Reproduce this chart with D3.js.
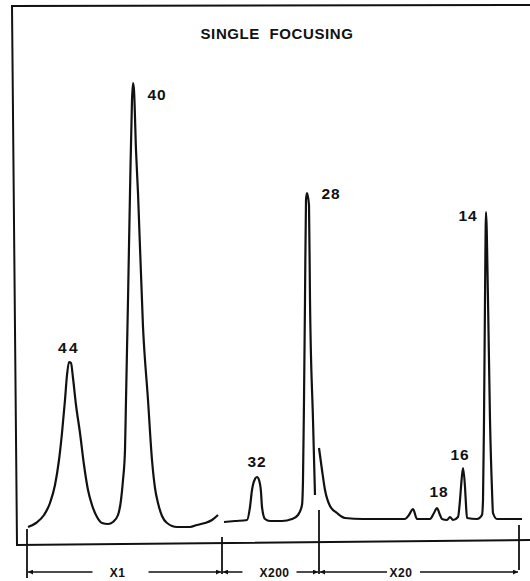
<!DOCTYPE html>
<html>
<head>
<meta charset="utf-8">
<script src="https://cdn.jsdelivr.net/npm/d3@7"></script>
<style>
  html, body { margin: 0; padding: 0; background: #fff; }
  svg { display: block; }
  text { font-family: "Liberation Sans", Arial, sans-serif; fill: #111; font-weight: bold; }
</style>
</head>
<body>
<div id="chart"></div>
<script>
// Mass spectrum, single focusing
// x = scan position from the left axis, y = pen height above the axis line

const title = "SINGLE  FOCUSING"

// pen trace, one list per gain range
const traceX1 = [[14,18],[22,22],[30,30],[36,42],[41,60],[45,85],[48,112],[51,145],[53,170],[55,183],
    [57,182],[59,167],[62,140],[66,112],[70,80],[74,55],[78,40],[83,28],[88,22],[94,21],[99,23],
    [104,30],[107,45],[109,65],[111,95],[112,145],[113,195],[114,245],[116,352],[118,445],[119,462],
    [120,455],[122,395],[124,352],[129,218],[134,145],[138,85],[141,57],[144,42],[148,29],[153,22],
    [163,18],[176,18],[183,20],[191,22],[198,25],[204,30]]
const traceX200 = [[210,23],[221,24],[233,25],[236,38],[238,55],[241,66],[243,68],[245,65],[247,53],
    [248,38],[251,26],[256,24],[268,24],[278,26],[284,30],[288,40],[289,65],[290,145],[291,245],
    [292,345],[293,352],[295,340],[296,245],[299,125],[301,50]]
const traceX20 = [[305,97],[308,75],[311,55],[316,39],[323,32],[331,27],[349,26],[376,26],[391,26],
    [395,30],[399,36],[403,26],[416,26],[420,32],[423,37],[426,30],[428,26],[433,25],[436,28],[439,25],
    [444,28],[446,45],[447,58],[449,77],[451,58],[452,40],[453,27],[463,26],[468,30],[469,45],[470,125],
    [471,245],[472,333],[474,245],[476,125],[478,55],[479,32],[483,26],[508,26]]

// peak labels (mass numbers) and their apex
const peakMass  = [44, 40, 32, 28, 18, 16, 14]
const peakApexX = [55, 119, 243, 293, 423, 449, 472]
const peakApexY = [183, 462, 68, 352, 37, 77, 333]

// gain ranges along the bottom
const rangeLabels = ["X1", "X200", "X20"]
const rangeBreaks = [13, 208, 305, 505]

// ---- layout ----
const W = 530, H = 581
const xScale = d3.scaleLinear().domain([0, 516]).range([14, 530])
const yScale = d3.scaleLinear().domain([0, 539]).range([545, 6])

const labelDx = [0, 24, 0, 24, 2, -3, -18]
const labelDy = [-9, 17, -10, 6, -11, -8, 9]
const rangeDx = [-7, 4, -18]
const gapL = [25, 32, 14], gapR = [31, 22, 19]
const tickTop = [529, 537, 510, 525], tickBottom = [578, 574, 574, 570]
const bracketY = 572

const svg = d3.select("#chart").append("svg")
    .attr("width", W)
    .attr("height", H)

svg.append("defs").append("marker")
    .attr("id", "arrow")
    .attr("viewBox", "0 0 10 10")
    .attr("refX", 10).attr("refY", 5)
    .attr("markerWidth", 7).attr("markerHeight", 5)
    .attr("markerUnits", "userSpaceOnUse")
    .attr("orient", "auto-start-reverse")
    .append("path")
    .attr("d", "M0,0L10,5L0,10Z")
    .style("fill", "#111")

// frame: top, left and bottom lines (scan is slightly skewed)
svg.append("path")
    .attr("d", "M530,5L12,6L17,545L530,540")
    .style("fill", "none")
    .style("stroke", "#111")
    .style("stroke-width", 2)

svg.append("text")
    .attr("x", 277).attr("y", 39)
    .attr("text-anchor", "middle")
    .style("font-size", "15px")
    .style("letter-spacing", "0.6px")
    .style("white-space", "pre")
    .text(title)

const line = d3.line()
    .x(d => xScale(d[0]))
    .y(d => yScale(d[1]))
    .curve(d3.curveMonotoneX)

svg.append("g").selectAll("path")
    .data([traceX1, traceX200, traceX20]).enter()
    .append("path")
    .attr("d", line)
    .style("fill", "none")
    .style("stroke", "#111")
    .style("stroke-width", 2.2)
    .style("stroke-linejoin", "round")

svg.append("g").selectAll("text")
    .data(peakMass).enter()
    .append("text")
    .attr("x", (d, i) => xScale(peakApexX[i]) + labelDx[i])
    .attr("y", (d, i) => yScale(peakApexY[i]) + labelDy[i])
    .attr("text-anchor", "middle")
    .style("font-size", "15.5px")
    .style("letter-spacing", (d, i) => i == 0 ? "2.5px" : "1px")
    .text(d => d)

// range dividers and arrows
svg.append("g").selectAll("line")
    .data(rangeBreaks).enter()
    .append("line")
    .attr("x1", d => xScale(d)).attr("x2", d => xScale(d))
    .attr("y1", (d, i) => tickTop[i]).attr("y2", (d, i) => tickBottom[i])
    .style("stroke", "#111")
    .style("stroke-width", 1.8)

rangeLabels.forEach((lab, i) => {
    const x0 = xScale(rangeBreaks[i]), x1 = xScale(rangeBreaks[i + 1])
    const cx = (x0 + x1) / 2 + rangeDx[i]
    const g = svg.append("g")
    g.append("line")
        .attr("x1", cx - gapL[i]).attr("x2", x0 + 1)
        .attr("y1", bracketY).attr("y2", bracketY)
        .attr("marker-end", "url(#arrow)")
        .style("stroke", "#111").style("stroke-width", 1.5)
    g.append("line")
        .attr("x1", cx + gapR[i]).attr("x2", x1 - 1)
        .attr("y1", bracketY).attr("y2", bracketY)
        .attr("marker-end", "url(#arrow)")
        .style("stroke", "#111").style("stroke-width", 1.5)
    g.append("text")
        .attr("x", cx).attr("y", bracketY + 4.5)
        .attr("text-anchor", "middle")
        .style("font-size", "12px")
        .style("letter-spacing", "0.5px")
        .text(lab)
})
</script>
</body>
</html>
